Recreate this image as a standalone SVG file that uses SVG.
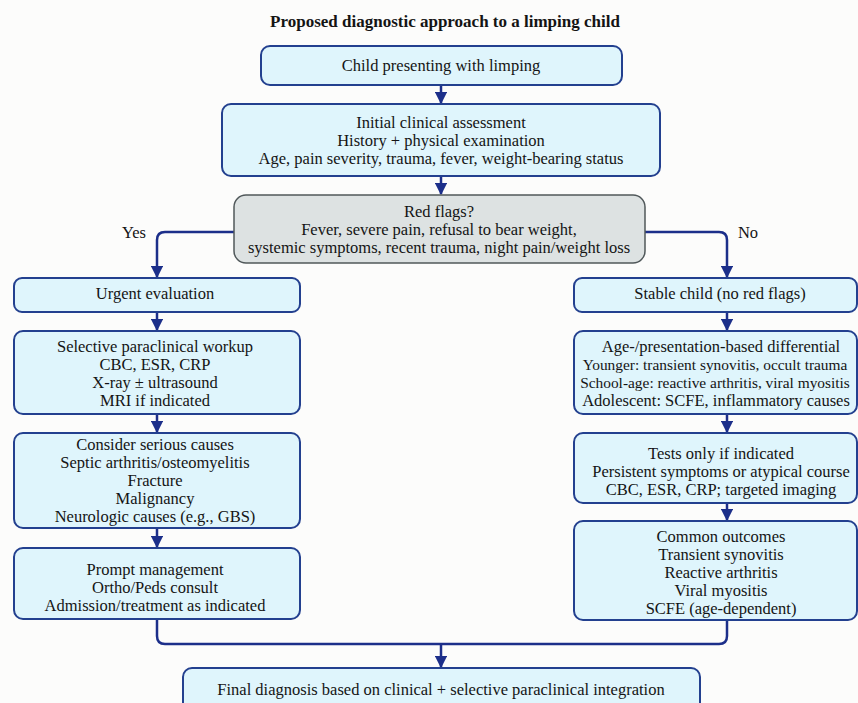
<svg xmlns="http://www.w3.org/2000/svg" width="858" height="703" viewBox="0 0 858 703">
<defs>
<style>
.box{fill:#dff5fc;stroke:#23408f;stroke-width:2}
.grey{fill:#dde2e2;stroke:#50585a;stroke-width:1.5}
text{font-family:"Liberation Serif","DejaVu Serif",serif;font-size:16.5px;fill:#141414;text-anchor:middle}
.title{font-weight:bold;font-size:17px}
.sm{font-size:15.4px}
.c{fill:none;stroke:#1c2f8a;stroke-width:2.5;stroke-linejoin:round}
</style>
<marker id="ah" viewBox="0 0 10 10" refX="9" refY="5" markerWidth="5" markerHeight="5" orient="auto" markerUnits="strokeWidth">
<path d="M0,0 L10,5 L0,10 z" fill="#1c2f8a"/>
</marker>
</defs>
<rect width="858" height="703" fill="#fcfcfb"/>
<text class="title" x="445" y="27">Proposed diagnostic approach to a limping child</text>

<g id="connectors">
<path class="c" d="M441,85 V103" marker-end="url(#ah)"/>
<path class="c" d="M441,176 V194" marker-end="url(#ah)"/>
<path class="c" d="M234,232 H165 Q157,232 157,240 V277" marker-end="url(#ah)"/>
<path class="c" d="M645,232 H719 Q727,232 727,240 V277" marker-end="url(#ah)"/>
<path class="c" d="M157,312 V330" marker-end="url(#ah)"/>
<path class="c" d="M157,414 V432" marker-end="url(#ah)"/>
<path class="c" d="M157,528 V547" marker-end="url(#ah)"/>
<path class="c" d="M727,312 V330" marker-end="url(#ah)"/>
<path class="c" d="M727,414 V432" marker-end="url(#ah)"/>
<path class="c" d="M727,503 V520" marker-end="url(#ah)"/>
<path class="c" d="M157,619 V636 Q157,644 165,644 H719 Q727,644 727,636 V620"/>
<path class="c" d="M441,644 V667" marker-end="url(#ah)"/>
</g>

<g id="n1"><rect class="box" x="261" y="46" width="361" height="39" rx="9"/>
<text x="441" y="71">Child presenting with limping</text></g>

<g id="n2"><rect class="box" x="222" y="104" width="438" height="72" rx="9"/>
<text x="441" y="128">Initial clinical assessment</text>
<text x="441" y="146">History + physical examination</text>
<text x="441" y="164">Age, pain severity, trauma, fever, weight-bearing status</text></g>

<g id="n3"><rect class="grey" x="234" y="195" width="411" height="68" rx="12"/>
<text x="439" y="217">Red flags?</text>
<text x="439" y="235">Fever, severe pain, refusal to bear weight,</text>
<text x="439" y="253">systemic symptoms, recent trauma, night pain/weight loss</text></g>

<text x="134" y="238">Yes</text>
<text x="748" y="238">No</text>

<g id="n4"><rect class="box" x="14" y="278" width="286" height="34" rx="8"/>
<text x="155" y="299">Urgent evaluation</text></g>

<g id="n5"><rect class="box" x="14" y="331" width="286" height="83" rx="9"/>
<text x="155" y="352">Selective paraclinical workup</text>
<text x="155" y="370">CBC, ESR, CRP</text>
<text x="155" y="388">X-ray ± ultrasound</text>
<text x="155" y="406">MRI if indicated</text></g>

<g id="n6"><rect class="box" x="14" y="433" width="286" height="95" rx="9"/>
<text x="155" y="450">Consider serious causes</text>
<text x="155" y="468">Septic arthritis/osteomyelitis</text>
<text x="155" y="486">Fracture</text>
<text x="155" y="504">Malignancy</text>
<text x="155" y="522">Neurologic causes (e.g., GBS)</text></g>

<g id="n7"><rect class="box" x="14" y="548" width="286" height="71" rx="9"/>
<text x="155" y="575">Prompt management</text>
<text x="155" y="593">Ortho/Peds consult</text>
<text x="155" y="611">Admission/treatment as indicated</text></g>

<g id="n8"><rect class="box" x="574" y="278" width="283" height="34" rx="8"/>
<text x="720" y="299">Stable child (no red flags)</text></g>

<g id="n9"><rect class="box" x="574" y="331" width="283" height="83" rx="9"/>
<text x="721" y="352">Age-/presentation-based differential</text>
<text class="sm" x="715" y="370">Younger: transient synovitis, occult trauma</text>
<text class="sm" x="715" y="388">School-age: reactive arthritis, viral myositis</text>
<text x="716" y="406">Adolescent: SCFE, inflammatory causes</text></g>

<g id="n10"><rect class="box" x="574" y="433" width="283" height="70" rx="9"/>
<text x="721" y="459">Tests only if indicated</text>
<text x="721" y="477">Persistent symptoms or atypical course</text>
<text x="721" y="495">CBC, ESR, CRP; targeted imaging</text></g>

<g id="n11"><rect class="box" x="574" y="521" width="283" height="99" rx="9"/>
<text x="721" y="542">Common outcomes</text>
<text x="721" y="560">Transient synovitis</text>
<text x="721" y="578">Reactive arthritis</text>
<text x="721" y="596">Viral myositis</text>
<text x="721" y="614">SCFE (age-dependent)</text></g>

<g id="n12"><rect class="box" x="183" y="668" width="517" height="50" rx="9"/>
<text x="441" y="695">Final diagnosis based on clinical + selective paraclinical integration</text></g>
</svg>
